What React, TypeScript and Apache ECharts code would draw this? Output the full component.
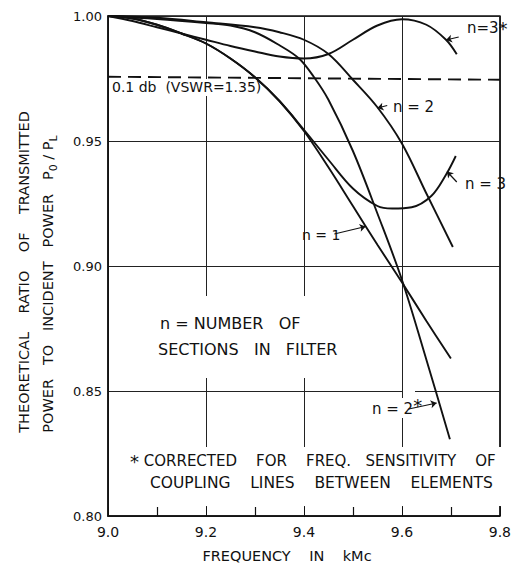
import React, { useEffect, useRef } from "react";
import * as echarts from "echarts";

// ---- data ----
const freqN1 = [9.0, 9.05, 9.1, 9.15, 9.2, 9.25, 9.3, 9.35, 9.4, 9.45, 9.5, 9.55, 9.6, 9.65, 9.7];
const valN1 = [1.0, 0.999, 0.9965, 0.993, 0.989, 0.983, 0.9755, 0.966, 0.954, 0.9395, 0.924, 0.9085, 0.8935, 0.878, 0.863];

const freqN3 = [9.0, 9.05, 9.1, 9.15, 9.2, 9.25, 9.3, 9.35, 9.4, 9.45, 9.5, 9.55, 9.58, 9.62, 9.66, 9.69, 9.71];
const valN3 = [1.0, 0.999, 0.9965, 0.993, 0.989, 0.983, 0.9755, 0.966, 0.9545, 0.9425, 0.931, 0.924, 0.923, 0.9235, 0.928, 0.9365, 0.944];

const freqN2 = [9.0, 9.1, 9.2, 9.3, 9.35, 9.4, 9.45, 9.5, 9.55, 9.6, 9.65, 9.704];
const valN2 = [1.0, 0.9993, 0.9975, 0.9955, 0.9935, 0.9905, 0.9848, 0.9745, 0.9635, 0.949, 0.929, 0.9076];

const freqN2s = [9.0, 9.1, 9.2, 9.25, 9.3, 9.35, 9.39, 9.42, 9.45, 9.5, 9.55, 9.6, 9.65, 9.698];
const valN2s = [1.0, 0.9988, 0.9972, 0.9962, 0.9935, 0.9883, 0.983, 0.9757, 0.9665, 0.946, 0.921, 0.8945, 0.8625, 0.8307];

const freqN3s = [9.0, 9.05, 9.1, 9.15, 9.2, 9.25, 9.3, 9.35, 9.4, 9.45, 9.5, 9.55, 9.6, 9.65, 9.69, 9.712];
const valN3s = [1.0, 0.998, 0.9955, 0.993, 0.9905, 0.988, 0.9858, 0.9838, 0.983, 0.9848, 0.9905, 0.9962, 0.9987, 0.9965, 0.9905, 0.9847];

const freqLimit = [9.0, 9.8];
const valLimit = [0.9757, 0.9745];

const yTicks = [0.8, 0.85, 0.9, 0.95, 1.0];

// arrows: [fromFreq, fromVal, toFreq, toVal]
const arrowN3s = [9.716, 0.9916, 9.69, 0.9904];
const arrowN2 = [9.57, 0.9642, 9.55, 0.9632];
const arrowN3 = [9.712, 0.9336, 9.692, 0.9378];
const arrowN1 = [9.462, 0.9128, 9.526, 0.9158];
const arrowN2s = [9.614, 0.8428, 9.671, 0.8452];

const FONT = "DejaVu Sans";
const INK = "#111";

function pairs(xs: number[], ys: number[]) {
  return xs.map((x, i) => [x, ys[i]]);
}

function curve(name: string, xs: number[], ys: number[]) {
  return {
    name,
    type: "line",
    data: pairs(xs, ys),
    smooth: 0.35,
    symbol: "none",
    lineStyle: { color: INK, width: 1.9 },
    z: 3,
  };
}

function arrow(a: number[]) {
  return [{ coord: [a[0], a[1]] }, { coord: [a[2], a[3]] }];
}

function whiteRect(x: number, y: number, w: number, h: number) {
  return { type: "rect", z: 1, shape: { x, y, width: w, height: h }, style: { fill: "#fff" }, silent: true };
}

function label(text: string, x: number, y: number, size = 13, align = "left", extra: any = {}) {
  return {
    type: "text",
    z: 5,
    x,
    y,
    style: {
      text,
      fill: INK,
      font: `${size}px "${FONT}"`,
      textAlign: align,
      textVerticalAlign: "middle",
      ...extra,
    },
  };
}

export default function App() {
  const ref = useRef<HTMLDivElement>(null);
  useEffect(() => {
    if (!ref.current) return;
    const chart = echarts.init(ref.current, undefined, { renderer: "svg" });
    chart.setOption({
      animation: false,
      backgroundColor: "#fff",
      grid: { left: 108, right: 6, top: 16, bottom: 51, show: true, borderColor: INK, borderWidth: 1.5, containLabel: false },
      xAxis: {
        type: "value",
        min: 9.0,
        max: 9.8,
        interval: 0.2,
        axisLine: { show: true, lineStyle: { color: INK, width: 1.5 } },
        axisTick: { show: true, inside: true, length: 9, lineStyle: { color: INK } },
        minorTick: { show: true, splitNumber: 2, length: 9, lineStyle: { color: INK, width: 1.2 } },
        splitLine: { show: true, lineStyle: { color: "#222", width: 1 } },
        axisLabel: {
          color: INK,
          fontFamily: FONT,
          fontSize: 14,
          margin: 9,
          formatter: (v: number) => v.toFixed(1),
        },
      },
      yAxis: {
        type: "value",
        min: 0.8,
        max: 1.0,
        interval: 0.05,
        axisLine: { show: true, lineStyle: { color: INK, width: 1.5 } },
        axisTick: { show: false },
        splitLine: { show: true, lineStyle: { color: "#222", width: 1 } },
        axisLabel: {
          color: INK,
          fontFamily: FONT,
          fontSize: 13,
          margin: 6,
          customValues: yTicks,
          formatter: (v: number) => v.toFixed(2),
        },
      },
      series: [
        curve("n=1", freqN1, valN1),
        curve("n=3", freqN3, valN3),
        curve("n=2", freqN2, valN2),
        curve("n=2*", freqN2s, valN2s),
        curve("n=3*", freqN3s, valN3s),
        {
          name: "0.1 db",
          type: "line",
          data: pairs(freqLimit, valLimit),
          symbol: "none",
          lineStyle: { color: INK, width: 1.9, type: [13, 7] },
          z: 3,
          markLine: {
            silent: true,
            symbol: ["none", "arrow"],
            symbolSize: 6,
            label: { show: false },
            lineStyle: { color: INK, width: 1.2, type: "solid" },
            data: [arrow(arrowN3s), arrow(arrowN2), arrow(arrowN3), arrow(arrowN1), arrow(arrowN2s)],
          },
        },
      ],
      graphic: [
        // gaps in the hand-drawn grid around lettering
        whiteRect(110, 79, 140, 17),
        whiteRect(150, 296, 192, 82),
        whiteRect(120, 447, 386, 59),
        whiteRect(403, 378, 12, 69),
        whiteRect(366, 398, 50, 20),
        whiteRect(403, 81, 12, 58),
        label("0.1 db  (VSWR=1.35)", 112, 87, 14),
        label("n=3{s|*}", 467, 28, 15, "left", { rich: { s: { fontSize: 18, fontFamily: FONT, fill: INK } } }),
        label("n = 2", 393, 107, 15),
        label("n = 3", 465, 184, 15),
        label("n = 1", 302, 235, 14),
        label("n = NUMBER   OF", 160, 323, 16),
        label("SECTIONS   IN   FILTER", 158, 349, 16),
        label("n = 2{s|*}", 372, 409, 15, "left", { rich: { s: { fontSize: 18, fontFamily: FONT, fill: INK, padding: [0, 0, 8, 0] } } }),
        label("{s|*} CORRECTED    FOR    FREQ.   SENSITIVITY    OF", 130, 461, 15, "left", { rich: { s: { fontSize: 18, fontFamily: FONT, fill: INK } } }),
        label("COUPLING    LINES    BETWEEN    ELEMENTS", 150, 483, 15.5),
        label("FREQUENCY    IN    kMc", 287, 556, 14.5, "center"),
        {
          type: "text",
          z: 5,
          x: 24,
          y: 272,
          rotation: Math.PI / 2,
          style: {
            text: "THEORETICAL    RATIO    OF    TRANSMITTED",
            fill: INK,
            font: `14.5px "${FONT}"`,
            textAlign: "center",
            textVerticalAlign: "middle",
          },
        },
        {
          type: "text",
          z: 5,
          x: 48,
          y: 284,
          rotation: Math.PI / 2,
          style: {
            text: "POWER   TO   INCIDENT   POWER   P{s|0} / P{s|L}",
            fill: INK,
            font: `14.5px "${FONT}"`,
            textAlign: "center",
            textVerticalAlign: "middle",
            rich: { s: { fontSize: 11, fontFamily: FONT, fill: INK, padding: [11, 0, 0, 0] } },
          },
        },
      ],
    });
    return () => chart.dispose();
  }, []);
  return <div ref={ref} style={{ width: 514, height: 567, position: "absolute", left: 0, top: 0 }} />;
}
